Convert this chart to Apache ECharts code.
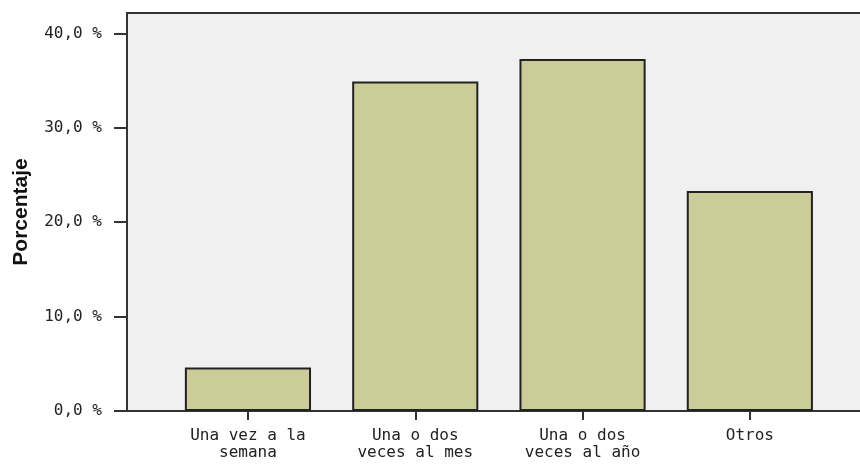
<!DOCTYPE html>
<html>
<head>
<meta charset="utf-8">
<script src="https://cdn.jsdelivr.net/npm/echarts@6/dist/echarts.min.js"></script>
<style>
  html, body { margin: 0; padding: 0; background: #ffffff; }
  #chart { width: 860px; height: 465px; }
</style>
</head>
<body>
<div id="chart"></div>
<script>
// Frecuencia de asistencia (porcentaje de encuestados)
const categories = ['Una vez a la\nsemana', 'Una o dos\nveces al mes', 'Una o dos\nveces al año', 'Otros'];
const percentages = [4.6, 34.9, 37.3, 23.3];
const yTicks = [0, 10, 20, 30, 40];
const yMax = 42.16;

const labelFont = '"DejaVu Sans Mono", monospace';
const ink = '#222222';

function fmtPct(v) {
  return v.toFixed(1).replace('.', ',') + ' %';
}

const chart = echarts.init(document.getElementById('chart'), null, { renderer: 'canvas' });

chart.setOption({
  animation: false,
  backgroundColor: '#ffffff',
  grid: [
    // plot frame with its grey background, running past the right edge
    {
      left: 127, top: 13, width: 780, bottom: 54,
      outerBoundsMode: 'none', containLabel: false,
      show: true, backgroundColor: '#f0f0f0',
      borderColor: '#333333', borderWidth: 2
    },
    // band area holding the bars
    { left: 164.3, right: 26.5, top: 13, bottom: 54, outerBoundsMode: 'none' }
  ],
  xAxis: [
    {
      gridIndex: 0, type: 'value', min: 0, max: 1,
      axisLine: { show: true, lineStyle: { color: '#333333', width: 2 } },
      axisTick: { show: false }, axisLabel: { show: false }, splitLine: { show: false }
    },
    {
      gridIndex: 1, type: 'category', data: categories,
      axisLine: { show: false },
      axisTick: { show: true, alignWithLabel: true, length: 9, lineStyle: { color: '#333333', width: 2 } },
      axisLabel: {
        margin: 16, color: ink, fontFamily: labelFont, fontSize: 16, lineHeight: 17,
        interval: 0
      },
      splitLine: { show: false }
    }
  ],
  yAxis: [
    {
      gridIndex: 0, type: 'value', min: 0, max: yMax, interval: 10,
      name: 'Porcentaje', nameLocation: 'middle', nameGap: 95,
      nameTextStyle: { fontFamily: '"Liberation Sans", Arial, sans-serif', fontWeight: 'bold', fontSize: 21, color: '#111111' },
      axisLine: { show: true, lineStyle: { color: '#333333', width: 2 } },
      axisTick: { show: true, length: 13, customValues: yTicks, lineStyle: { color: '#333333', width: 2 } },
      axisLabel: {
        customValues: yTicks, margin: 25, color: ink, fontFamily: labelFont, fontSize: 16,
        formatter: fmtPct
      },
      splitLine: { show: false }
    },
    {
      gridIndex: 1, type: 'value', min: 0, max: yMax, show: false
    }
  ],
  series: [
    {
      type: 'bar', xAxisIndex: 1, yAxisIndex: 1,
      data: percentages,
      barCategoryGap: '24.6%',
      itemStyle: { color: '#cccc99', borderColor: '#222222', borderWidth: 2 }
    }
  ]
});
</script>
</body>
</html>
